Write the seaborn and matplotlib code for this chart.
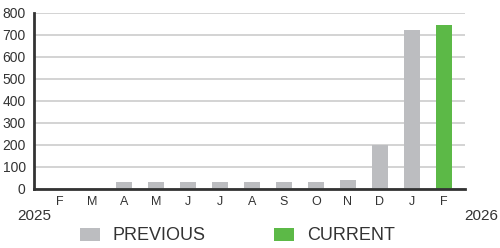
import pandas as pd
import numpy as np
import matplotlib
matplotlib.use('Agg')
import matplotlib.pyplot as plt
import seaborn as sns

# Monthly values, Feb 2025 -> Feb 2026
months = ['F', 'M', 'A', 'M', 'J', 'J', 'A', 'S', 'O', 'N', 'D', 'J', 'F']
previous = [0, 0, 30, 30, 30, 30, 30, 30, 30, 40, 200, 720]
current = [745]
yticks = [0, 100, 200, 300, 400, 500, 600, 700, 800]
year_start = '2025'
year_end = '2026'

gray = '#bcbdc0'
green = '#5cb947'
text_col = '#333333'

sns.set_theme(style='white')
plt.rcParams['font.family'] = ['Liberation Sans', 'DejaVu Sans']

# Long-form table for seaborn
rows = []
for i, v in enumerate(previous):
    rows.append({'idx': i, 'value': v, 'series': 'PREVIOUS'})
for j, v in enumerate(current):
    rows.append({'idx': len(previous) + j, 'value': v, 'series': 'CURRENT'})
df = pd.DataFrame(rows)

fig = plt.figure(figsize=(5, 2.48), dpi=100)
ax = fig.add_axes([34 / 500, 1 - 188.7 / 248, (465 - 34) / 500, (188.7 - 12.7) / 248])

sns.barplot(data=df, x='idx', y='value', hue='series',
            palette={'PREVIOUS': gray, 'CURRENT': green},
            dodge=False, width=0.5, saturation=1, linewidth=0, ax=ax)

ax.set_xlim(-0.81, 12.66)
ax.set_ylim(0, 800)
ax.set_yticks(yticks)
ax.set_yticklabels([str(t) for t in yticks], fontsize=10, color=text_col)
ax.set_xticks(range(len(months)))
ax.set_xticklabels(months, fontsize=9, color=text_col)
ax.tick_params(axis='both', length=0)
ax.tick_params(axis='y', pad=6)
ax.tick_params(axis='x', pad=5)
ax.set_xlabel('')
ax.set_ylabel('')

ax.yaxis.grid(True, color='#cccccc', linewidth=1.2)
ax.xaxis.grid(False)
ax.set_axisbelow(True)

for s in ['top', 'right']:
    ax.spines[s].set_visible(False)
for s in ['left', 'bottom']:
    ax.spines[s].set_color('#333333')
    ax.spines[s].set_linewidth(2)

fig.text(34.5 / 500, 1 - 216 / 248, year_start, ha='center', va='center',
         fontsize=11, color=text_col)
fig.text(481.5 / 500, 1 - 216 / 248, year_end, ha='center', va='center',
         fontsize=11, color=text_col)

sns.move_legend(ax, 'center left', bbox_to_anchor=(80 / 500, 1 - 236 / 248),
                bbox_transform=fig.transFigure, ncol=2, frameon=False, title=None,
                fontsize=13, handlelength=1.1, handleheight=0.72,
                handletextpad=0.72, columnspacing=3.8,
                borderpad=0, borderaxespad=0, labelcolor=text_col)

fig.savefig('out.png', dpi=100)
